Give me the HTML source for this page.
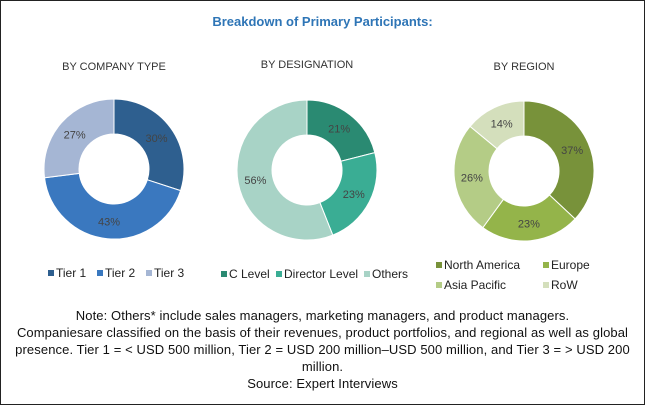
<!DOCTYPE html>
<html><head><meta charset="utf-8"><style>
body{margin:0;width:645px;height:405px;overflow:hidden;background:#fff;font-family:"Liberation Sans",sans-serif}
#frame{position:absolute;left:0;top:0;width:643px;height:403px;border:1px solid #222}
.t{position:absolute;white-space:nowrap}
</style></head><body>
<div id="frame"></div>
<div class="t" style="left:0;width:645px;text-align:center;top:14px;font-size:13px;font-weight:bold;color:#2e75b6">Breakdown of Primary Participants:</div>
<svg id="svg" width="645" height="405" style="position:absolute;left:0;top:0"></svg>
<div class="t" style="left:0;width:645px;top:307px;text-align:center;font-size:13px;line-height:17px;color:#111;letter-spacing:0.1px">Note: Others* include sales managers, marketing managers, and product managers.<br>Companiesare classified on the basis of their revenues, product portfolios, and regional as well as global<br>presence. Tier 1 = &lt; USD 500 million, Tier 2 = USD 200 million–USD 500 million, and Tier 3 = &gt; USD 200<br>million.<br>Source: Expert Interviews</div>
<script>
const chart1Labels=["Tier 1","Tier 2","Tier 3"];
const chart1Values=[30,43,27];
const chart2Labels=["C Level","Director Level","Others"];
const chart2Values=[21,23,56];
const chart3Labels=["North America","Europe","Asia Pacific","RoW"];
const chart3Values=[37,23,26,14];
const NS="http://www.w3.org/2000/svg";
const svg=document.getElementById('svg');
function mk(t,a){const e=document.createElementNS(NS,t);for(const k in a)e.setAttribute(k,a[k]);svg.appendChild(e);return e;}
function donut(cx,cy,R,r,vals,labels,colors,title,ty,key){
  const tt=mk('text',{x:cx,y:ty,'text-anchor':'middle','font-size':11,fill:'#333','font-family':'Liberation Sans Narrow, Liberation Sans, sans-serif'});
  tt.textContent=title;
  
  
  const tot=vals.reduce((a,b)=>a+b,0);let a0=0;
  vals.forEach((v,i)=>{
    const a1=a0+v/tot*2*Math.PI;
    const p=(a,rr)=>[cx+rr*Math.sin(a),cy-rr*Math.cos(a)];
    const [x1,y1]=p(a0,R),[x2,y2]=p(a1,R),[x3,y3]=p(a1,r),[x4,y4]=p(a0,r);
    const lg=(a1-a0)>Math.PI?1:0;
    const path=mk('path',{d:`M${x1},${y1}A${R},${R} 0 ${lg} 1 ${x2},${y2}L${x3},${y3}A${r},${r} 0 ${lg} 0 ${x4},${y4}Z`,fill:colors[i],stroke:'#fff','stroke-width':1});
    
    
    const [lx,ly]=p((a0+a1)/2,(R+r)/2);
    const lt=mk('text',{x:lx,y:ly+4,'text-anchor':'middle','font-size':11,fill:'#444'});
    lt.textContent=v+'%';
    
    
    a0=a1;
  });
}
function legend(items,key){
  items.forEach(([x,y,c,l])=>{
    const s=mk('rect',{x:x,y:y-7,width:6,height:6,fill:c});
    
    
    const t=mk('text',{x:x+8,y:y,'font-size':12,fill:'#222'});
    t.textContent=l;
    
    
  });
}
const c1=['#2e5f8f','#3a78bf','#a5b6d4'],c2=['#2a8a72','#3aad94','#a8d3c6'],c3=['#78923a','#94b44a','#b4cc86','#d4dfbc'];
donut(114,169,70,35,chart1Values,chart1Labels,c1,'BY COMPANY TYPE',70,'company-type');
donut(307,170,70,35,chart2Values,chart2Labels,c2,'BY DESIGNATION',68,'designation');
donut(524,171,70,35,chart3Values,chart3Labels,c3,'BY REGION',70,'region');
legend([[48,277,c1[0],chart1Labels[0]],[97,277,c1[1],chart1Labels[1]],[146,277,c1[2],chart1Labels[2]]],'company-type');
legend([[221,278,c2[0],chart2Labels[0]],[276,278,c2[1],chart2Labels[1]],[364,278,c2[2],chart2Labels[2]]],'designation');
legend([[436,269,c3[0],chart3Labels[0]],[543,269,c3[1],chart3Labels[1]],[436,289,c3[2],chart3Labels[2]],[543,289,c3[3],chart3Labels[3]]],'region');
</script>
</body></html>
